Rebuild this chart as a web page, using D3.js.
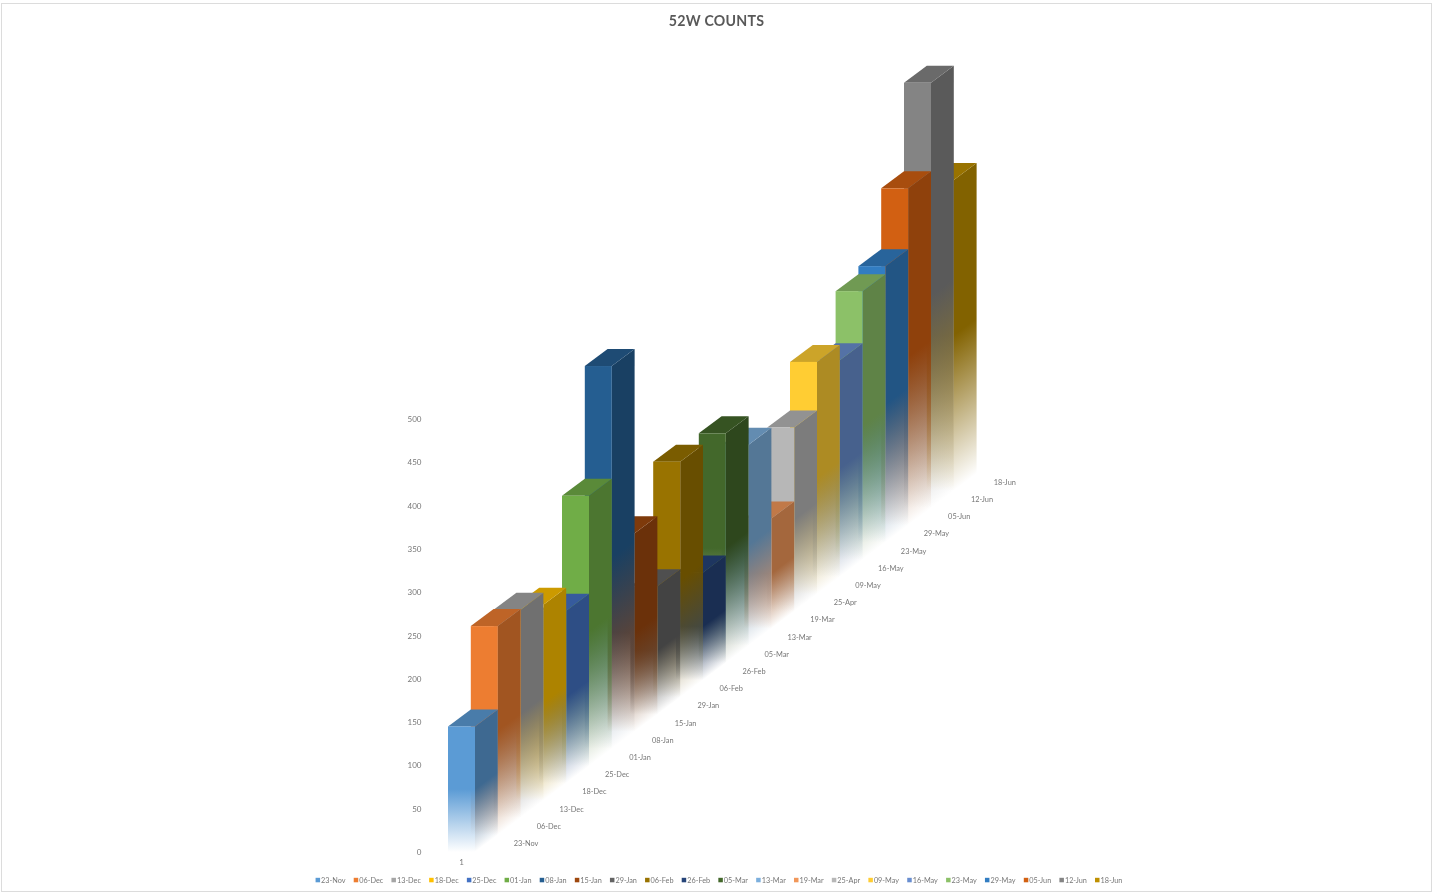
<!DOCTYPE html>
<html>
<head>
<meta charset="utf-8">
<script src="https://cdn.jsdelivr.net/npm/d3@7"></script>
<style>
html,body{margin:0;padding:0;background:#fff;}
svg{display:block;filter:blur(0.7px);}
text{font-family:Lato,"Open Sans",sans-serif;}
</style>
</head>
<body>
<div id="chart"></div>
<script>
const seriesNames = ["23-Nov","06-Dec","13-Dec","18-Dec","25-Dec","01-Jan","08-Jan","15-Jan","29-Jan","06-Feb","26-Feb","05-Mar","13-Mar","19-Mar","25-Apr","09-May","16-May","23-May","29-May","05-Jun","12-Jun","18-Jun"];
const seriesValues = [145,241,240,226,199,312,442,229,148,272,124,265,232,127,212,268,250,310,319,389,491,359];
const seriesColors = ["#5B9BD5","#ED7D31","#A5A5A5","#FFC000","#4472C4","#70AD47","#255E91","#9E480E","#636363","#997300","#264478","#43682B","#7CAFDD","#F1975A","#B7B7B7","#FFCD33","#698ED0","#8CC168","#327DC2","#D26012","#848484","#BF9000"];
const valueTicks = [0,50,100,150,200,250,300,350,400,450,500];
const categoryLabel = "1";
const chartTitle = "52W COUNTS";

const W = 1433, H = 893;
const svg = d3.select("#chart").append("svg").attr("width", W).attr("height", H);
const defs = svg.append("defs");

svg.append("rect").attr("x",1.5).attr("y",3.5).attr("width",W-3).attr("height",H-5)
  .attr("fill","#fff").attr("stroke","#dcdcdc");

svg.append("text").attr("x",716.5).attr("y",25.5).attr("text-anchor","middle")
  .attr("font-size",14.2).attr("font-weight",700).attr("fill","#595959").attr("letter-spacing",0.25).text(chartTitle);

const y = d3.scaleLinear().domain([0,500]).range([852,419]);
const last = seriesNames.length - 1;
const xPos = d3.scaleLinear().domain([0,last]).range([448,448+last*22.8]);
const lift = d3.scaleLinear().domain([0,last]).range([0,last*17.2]);
const barW = 27;
const depthX = 22.8, depthY = 17.0;

// value axis
const axis = d3.axisLeft(y).tickValues(valueTicks).tickSize(0).tickPadding(0);
const axisG = svg.append("g").attr("transform","translate(421.5,0)").call(axis);
axisG.select(".domain").remove();
axisG.selectAll("text").attr("font-size",8).attr("fill","#777").attr("font-family","Lato,'Open Sans',sans-serif");

// single category label on the front axis
svg.append("text").attr("x",461.5).attr("y",864.5).attr("text-anchor","middle")
  .attr("font-size",8).attr("fill","#777").text(categoryLabel);

// series labels along the depth axis
svg.append("g").selectAll("text").data(seriesNames).join("text")
  .attr("x",(d,i)=>xPos(i)+78)
  .attr("y",(d,i)=>846-lift(i))
  .attr("text-anchor","middle").attr("font-size",7.4).attr("fill","#777").text(d=>d);

function shade(c,k){
  const r=d3.rgb(c); return d3.rgb(r.r*k,r.g*k,r.b*k).formatHex();
}
function addGrad(id,c,p0,p1){
  const g=defs.append("linearGradient").attr("id",id).attr("gradientUnits","userSpaceOnUse")
    .attr("x1",p0[0]).attr("y1",p0[1]).attr("x2",p1[0]).attr("y2",p1[1]);
  g.append("stop").attr("offset","0").attr("stop-color",c).attr("stop-opacity",1);
  g.append("stop").attr("offset","0.5").attr("stop-color",c).attr("stop-opacity",1);
  g.append("stop").attr("offset","1").attr("stop-color",c).attr("stop-opacity",0);
}
const dl = Math.hypot(depthX,depthY);

const bars = d3.range(seriesNames.length).reverse().map(i=>({i,v:seriesValues[i],c:seriesColors[i]}));
const barG = svg.append("g").selectAll("g").data(bars).join("g");

barG.each(function(d){
  const g=d3.select(this), i=d.i;
  const x0=xPos(i), x1=x0+barW, x2=x1+depthX;
  const yb=y(0)-lift(i), yt=y(d.v)-lift(i);
  const h=yb-yt;
  addGrad("front"+i,d.c,[x0,yt],[x0,yb]);
  const nlen=h*depthX/dl;
  addGrad("side"+i,shade(d.c,0.68),[x1,yt],[x1+nlen*depthY/dl,yt+nlen*depthX/dl]);
  g.append("polygon").attr("fill",`url(#side${i})`)
    .attr("points",[[x1,yt],[x2,yt-depthY],[x2,yb-depthY],[x1,yb]].join(" "));
  g.append("polygon").attr("fill",shade(d.c,0.8))
    .attr("points",[[x0,yt],[x0+depthX,yt-depthY],[x2,yt-depthY],[x1,yt]].join(" "));
  g.append("rect").attr("x",x0).attr("y",yt).attr("width",barW).attr("height",h).attr("fill",`url(#front${i})`);
});

// legend, laid out from measured text widths
const legend = svg.append("g");
let lx = 0;
const legendGap = 8.2;
seriesNames.forEach((n,i)=>{
  const it=legend.append("g").attr("transform",`translate(${lx},0)`);
  it.append("rect").attr("x",0).attr("y",-2.2).attr("width",4.5).attr("height",4.5).attr("fill",seriesColors[i]);
  const t=it.append("text").attr("x",5.5).attr("y",2.7).attr("font-size",7.3).attr("fill","#777").text(n);
  lx += 5.5 + t.node().getComputedTextLength() + legendGap;
});
legend.attr("transform",`translate(${719-(lx-legendGap)/2},880)`);
</script>
</body>
</html>
